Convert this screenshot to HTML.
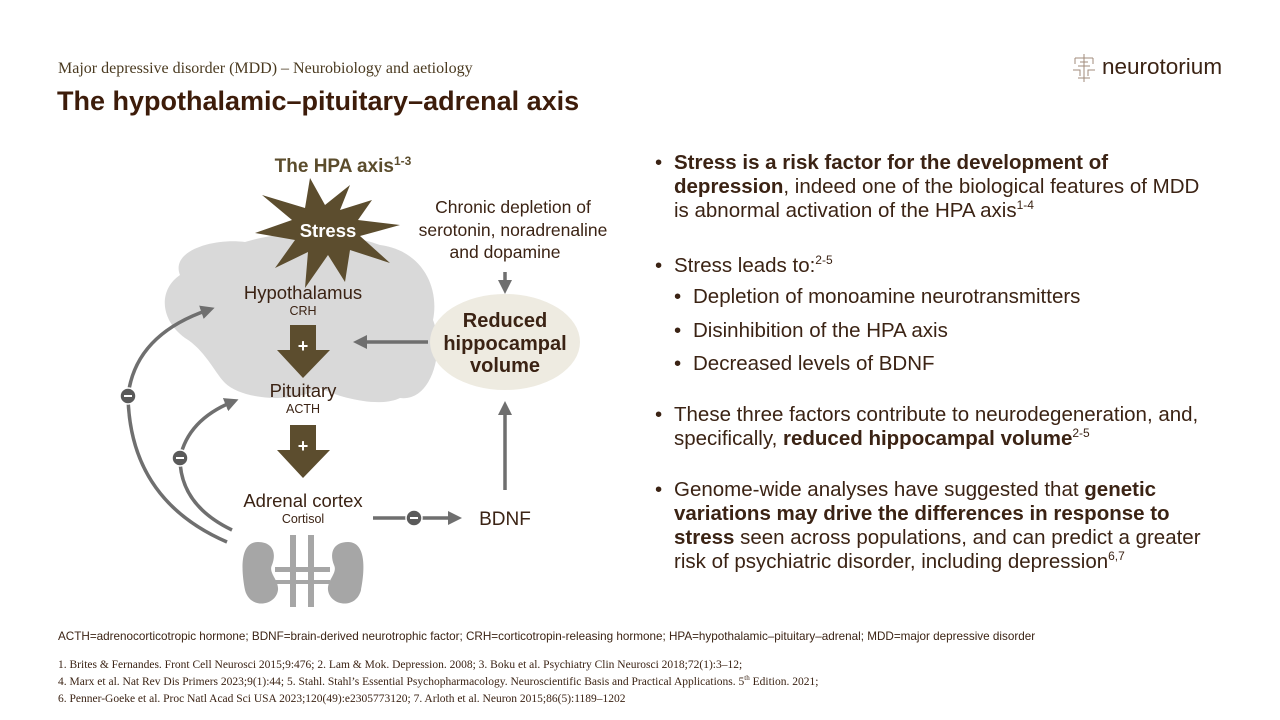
<!DOCTYPE html>
<html><head><meta charset="utf-8"><style>
body{margin:0;width:1280px;height:720px;background:#fff;position:relative;overflow:hidden;font-family:"Liberation Sans",sans-serif;color:#3b2314}
.a{position:absolute;white-space:nowrap}
.sub{left:58px;top:60px;font-family:"Liberation Serif",serif;font-size:16px;color:#4a3a20}
.title{left:57px;top:86px;font-size:27px;font-weight:bold;color:#3d1c0a}
.bl{position:absolute;left:655px;font-size:20.5px;line-height:24px;color:#3b2314}
.bl .d{position:absolute;left:0}
.bl .t{position:absolute;left:19px;white-space:nowrap}
sup{font-size:12px;line-height:0}
.fn{left:58px;font-size:11.7px;color:#3b2314}
.rf{left:58px;font-family:"Liberation Serif",serif;font-size:11.5px;color:#3b2314}
</style></head><body>
<div class="a sub">Major depressive disorder (MDD) – Neurobiology and aetiology</div>
<div class="a title">The hypothalamic–pituitary–adrenal axis</div>
<svg class="a" style="left:1070px;top:52px" width="28" height="32"><g stroke="#8a6e5a" stroke-width="1" fill="none" opacity=".8"><path d="M14,2V30M5,6H23M5,6V12M23,6V12M8,14H20M3,18H10V24M25,18H18V24M8,26H20M10,10H18"/></g></svg>
<div class="a" style="left:1102px;top:54px;font-size:22.5px;color:#3b2314">neurotorium</div>

<svg class="a" style="left:0;top:0" width="640" height="620">
<defs>
<marker id="ah" markerWidth="4" markerHeight="4" refX="2" refY="2" orient="auto" markerUnits="strokeWidth"><path d="M0,0L4,2L0,4z" fill="#6f6f6f"/></marker>
</defs>
<path d="M180,275 C170,250 215,238 245,242 C290,228 345,232 380,245 C420,250 440,285 433,320 C445,350 432,402 400,398 C380,408 340,398 320,388 C300,402 245,402 225,383 C215,373 205,350 185,338 C160,320 158,290 180,275z" fill="#d9d9d9"/>
<g fill="#a6a6a6">
<path d="M258,542 C238,542 242,575 245,590 C250,610 276,606 278,590 C279,580 268,573 272,565 C277,552 272,542 258,542z"/>
<path d="M348,542 C368,542 364,575 361,590 C356,610 330,606 328,590 C327,580 338,573 334,565 C329,552 334,542 348,542z"/>
<rect x="290" y="535" width="6" height="72"/><rect x="308" y="535" width="6" height="72"/>
<rect x="275" y="567" width="55" height="5"/><rect x="275" y="580" width="55" height="4"/>
</g>
<text x="343" y="172" font-size="19" font-weight="bold" fill="#5b4c2c" text-anchor="middle">The HPA axis<tspan font-size="12" dy="-7">1-3</tspan></text>
<polygon fill="#5c4d2e" points="350,185 340,210 372,200 358,220 400,225 360,236 390,263 350,250 345,282 328,255 305,288 308,252 275,268 295,240 255,233 292,220 262,195 305,208 310,178 325,205" />
<text x="328" y="237" font-size="18.5" font-weight="bold" fill="#fff" text-anchor="middle">Stress</text>
<g text-anchor="middle" fill="#3b2314">
<text x="303" y="299" font-size="18.5">Hypothalamus</text>
<text x="303" y="315" font-size="12.5">CRH</text>
<text x="303" y="397" font-size="18.5">Pituitary</text>
<text x="303" y="413" font-size="12.5">ACTH</text>
<text x="303" y="507" font-size="18.5">Adrenal cortex</text>
<text x="303" y="523" font-size="12.5">Cortisol</text>
<text x="513" y="213" font-size="17.5">Chronic depletion of</text>
<text x="513" y="236" font-size="17.5">serotonin, noradrenaline</text>
<text x="505" y="258" font-size="17.5">and dopamine</text>
<text x="505" y="525" font-size="19">BDNF</text>
</g>
<g fill="#5c4d2e">
<path d="M290,325H316V350H330L303,378L277,350H290z"/>
<path d="M290,425H316V450H330L303,478L277,450H290z"/>
</g>
<text x="303" y="352" font-size="18" font-weight="bold" fill="#fff" text-anchor="middle">+</text>
<text x="303" y="452" font-size="18" font-weight="bold" fill="#fff" text-anchor="middle">+</text>
<ellipse cx="505" cy="342" rx="75" ry="48" fill="#eeebe1"/>
<g text-anchor="middle" font-size="20" font-weight="bold" fill="#3b2314">
<text x="505" y="327">Reduced</text><text x="505" y="350">hippocampal</text><text x="505" y="372">volume</text>
</g>
<g stroke="#6f6f6f" stroke-width="3.5" fill="none">
<path d="M505,272V287" marker-end="url(#ah)"/>
<path d="M428,342H360" marker-end="url(#ah)"/>
<path d="M505,490V408" marker-end="url(#ah)"/>
<path d="M373,518H455" marker-end="url(#ah)"/>
<path d="M227,542 Q130,500 128,396 Q135,335 208,310" marker-end="url(#ah)"/>
<path d="M232,530 Q180,505 180,458 Q188,420 232,402" marker-end="url(#ah)"/>
</g>
<g fill="#5a5a5a" stroke="#fff" stroke-width="1.5">
<circle cx="414" cy="518" r="8"/><circle cx="128" cy="396" r="8"/><circle cx="180" cy="458" r="8"/>
</g>
<g stroke="#fff" stroke-width="2"><path d="M410,518h8M124,396h8M176,458h8"/></g>
</svg>

<div class="bl" style="top:151px"><span class="d">•</span><span class="t"><b>Stress is a risk factor for the development of</b><br><b>depression</b>, indeed one of the biological features of MDD<br>is abnormal activation of the HPA axis<sup>1-4</sup></span></div>
<div class="bl" style="top:254px"><span class="d">•</span><span class="t">Stress leads to:<sup>2-5</sup></span></div>
<div class="bl" style="top:285px;left:674px"><span class="d">•</span><span class="t">Depletion of monoamine neurotransmitters</span></div>
<div class="bl" style="top:319px;left:674px"><span class="d">•</span><span class="t">Disinhibition of the HPA axis</span></div>
<div class="bl" style="top:352px;left:674px"><span class="d">•</span><span class="t">Decreased levels of BDNF</span></div>
<div class="bl" style="top:403px"><span class="d">•</span><span class="t">These three factors contribute to neurodegeneration, and,<br>specifically, <b>reduced hippocampal volume</b><sup>2-5</sup></span></div>
<div class="bl" style="top:478px"><span class="d">•</span><span class="t">Genome-wide analyses have suggested that <b>genetic</b><br><b>variations may drive the differences in response to</b><br><b>stress</b> seen across populations, and can predict a greater<br>risk of psychiatric disorder, including depression<sup>6,7</sup></span></div>

<div class="a fn" style="top:630px">ACTH=adrenocorticotropic hormone; BDNF=brain-derived neurotrophic factor; CRH=corticotropin-releasing hormone; HPA=hypothalamic–pituitary–adrenal; MDD=major depressive disorder</div>
<div class="a rf" style="top:659px">1. Brites &amp; Fernandes. Front Cell Neurosci 2015;9:476; 2. Lam &amp; Mok. Depression. 2008; 3. Boku et al. Psychiatry Clin Neurosci 2018;72(1):3–12;</div>
<div class="a rf" style="top:676px">4. Marx et al. Nat Rev Dis Primers 2023;9(1):44; 5. Stahl. Stahl’s Essential Psychopharmacology. Neuroscientific Basis and Practical Applications. 5<sup style="font-size:7px">th</sup> Edition. 2021;</div>
<div class="a rf" style="top:693px">6. Penner-Goeke et al. Proc Natl Acad Sci USA 2023;120(49):e2305773120; 7. Arloth et al. Neuron 2015;86(5):1189–1202</div>
</body></html>
